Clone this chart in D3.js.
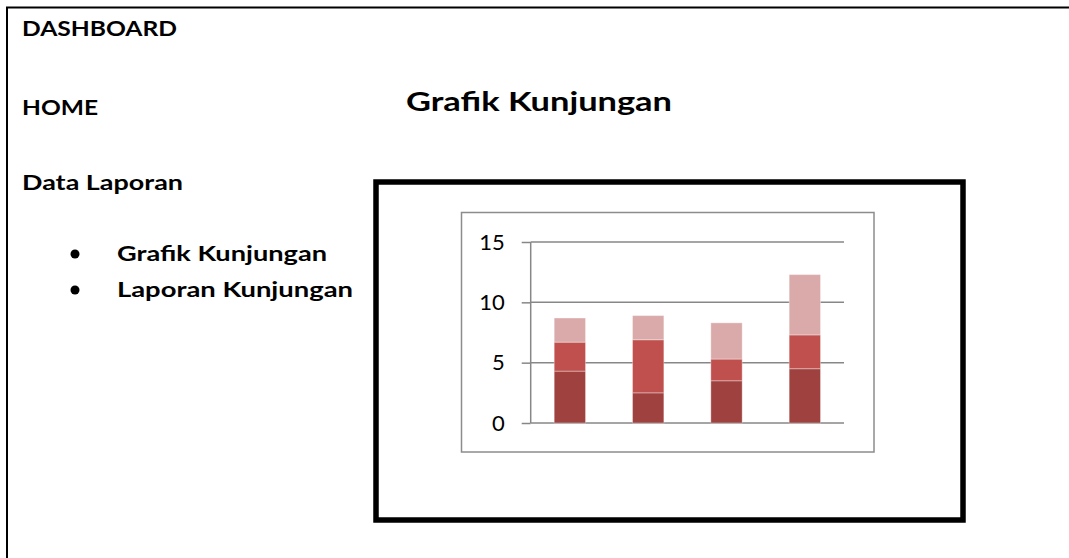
<!DOCTYPE html>
<html>
<head>
<meta charset="utf-8">
<script src="https://cdn.jsdelivr.net/npm/d3@7"></script>
<style>
  html, body { margin: 0; padding: 0; background: #fff; }
  svg { display: block; font-family: Lato, "Open Sans", sans-serif; }
</style>
</head>
<body>
<svg id="page"></svg>
<script>
// data (Excel default sample values)
const categories = ["Kategori 1", "Kategori 2", "Kategori 3", "Kategori 4"];
const seri1 = [4.3, 2.5, 3.5, 4.5];
const seri2 = [2.4, 4.4, 1.8, 2.8];
const seri3 = [2, 2, 3, 5];
const yTicks = [0, 5, 10, 15];
const menuItems = ["Grafik Kunjungan", "Laporan Kunjungan"];

let width = 1069,
	height = 558;

let svg = d3.select("#page").attr("width", width).attr("height", height);

// page frame (left + top only)
svg.append("path")
	.attr("d", `M7,${height} V7.5 H${width}`)
	.attr("fill", "none")
	.attr("stroke", "#000")
	.attr("stroke-width", 2);

// text is stretched wide in the mockup, so fit each label to its width
function label(g, txt, x, y, w) {
	return g.append("text")
		.attr("x", x)
		.attr("y", y)
		.attr("textLength", w)
		.attr("lengthAdjust", "spacingAndGlyphs")
		.text(txt);
}

// left menu
let menu = svg.append("g").attr("font-weight", 700).attr("font-size", "21px").attr("fill", "#000");
label(menu, "DASHBOARD", 22, 36, 155);
label(menu, "HOME", 22, 115, 76);
label(menu, "Data Laporan", 22, 190, 161);

let itemWidths = [210, 236];
menuItems.forEach((d, i) => label(menu, d, 117, 261 + i * 36, itemWidths[i]));

menu.selectAll(".bullet")
	.data(menuItems)
	.enter()
	.append("circle")
	.attr("class", "bullet")
	.attr("cx", 75)
	.attr("cy", (d, i) => 254 + i * 36)
	.attr("r", 4.5)
	.attr("fill", "#000");

// title
let title = svg.append("g").attr("font-weight", 700).attr("font-size", "27px");
label(title, "Grafik Kunjungan", 406, 111, 266);

// thick outer box
svg.append("rect")
	.attr("x", 376).attr("y", 182)
	.attr("width", 587).attr("height", 338)
	.attr("fill", "none")
	.attr("stroke", "#000")
	.attr("stroke-width", 5.5);

// chart area frame
svg.append("rect")
	.attr("x", 461.5).attr("y", 212.5)
	.attr("width", 412.5).attr("height", 239.5)
	.attr("fill", "#fff")
	.attr("stroke", "#8c8c8c")
	.attr("stroke-width", 1.5);

let plot = { left: 530.7, right: 844, top: 242, bottom: 423 };

let x = d3.scaleBand()
	.domain(categories)
	.range([plot.left, plot.right])
	.paddingInner(0.6)
	.paddingOuter(0.3);

let y = d3.scaleLinear().domain([0, 15]).range([plot.bottom, plot.top]);

// y axis ticks + labels
let yAxis = svg.append("g")
	.attr("transform", `translate(${plot.left},0)`)
	.call(d3.axisLeft(y).tickValues(yTicks).tickSize(9).tickPadding(17).tickFormat(d3.format("d")));
yAxis.select(".domain").remove();
yAxis.selectAll(".tick line").attr("stroke", "#878787").attr("stroke-width", 1.5);
yAxis.selectAll(".tick text")
	.attr("font-family", "Lato, 'Open Sans', sans-serif")
	.attr("font-size", "22px")
	.attr("fill", "#000");

// gridlines
svg.append("g")
	.selectAll("line")
	.data(yTicks)
	.enter()
	.append("line")
	.attr("x1", plot.left)
	.attr("x2", plot.right)
	.attr("y1", d => y(d))
	.attr("y2", d => y(d))
	.attr("stroke", "#878787")
	.attr("stroke-width", 1.5);

// stacked bars
const rows = categories.map((c, i) => ({ cat: c, s1: seri1[i], s2: seri2[i], s3: seri3[i] }));
const stack = d3.stack().keys(["s1", "s2", "s3"])(rows);
const color = d3.scaleOrdinal().domain(["s1", "s2", "s3"]).range(["#9f413f", "#c0504d", "#d9aaa9"]);

svg.append("g")
	.selectAll("g")
	.data(stack)
	.enter()
	.append("g")
	.attr("fill", d => color(d.key))
	.selectAll("rect")
	.data(d => d)
	.enter()
	.append("rect")
	.attr("x", d => x(d.data.cat))
	.attr("y", d => y(d[1]))
	.attr("width", x.bandwidth())
	.attr("height", d => y(d[0]) - y(d[1]))
	.attr("stroke", "rgba(255,255,255,0.35)")
	.attr("stroke-width", 1);

// vertical axis line
svg.append("line")
	.attr("x1", plot.left).attr("x2", plot.left)
	.attr("y1", plot.top).attr("y2", plot.bottom)
	.attr("stroke", "#878787")
	.attr("stroke-width", 1.5);
</script>
</body>
</html>
